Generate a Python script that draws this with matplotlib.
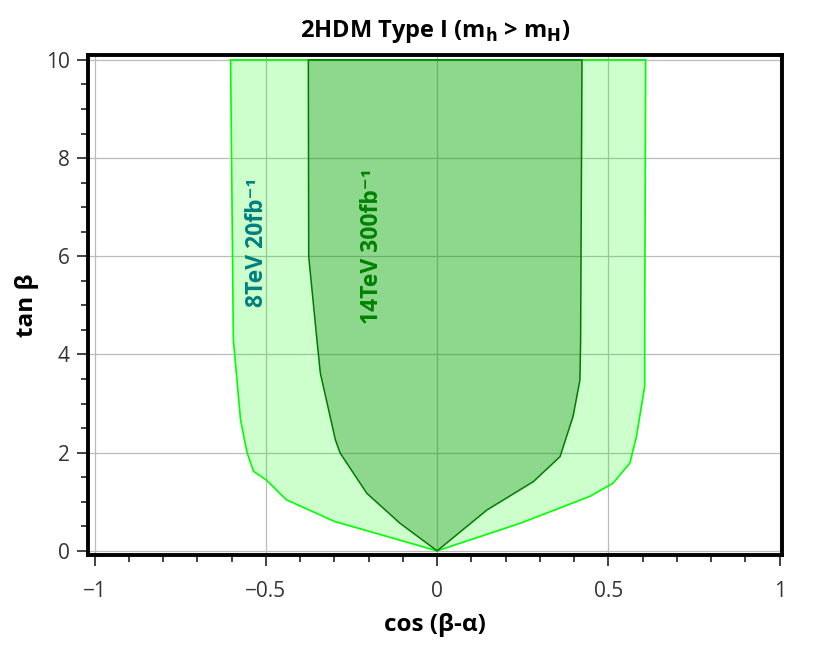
import matplotlib.pyplot as plt
from matplotlib.ticker import MultipleLocator, FuncFormatter

plt.rcParams['font.family'] = ['Open Sans', 'DejaVu Sans']

# 8TeV 20fb^-1 region boundary (left and right edges)
lo_left_x = [0, -0.08, -0.30, -0.44, -0.50, -0.536, -0.555, -0.574, -0.595, -0.603]
lo_left_y = [0, 0.16, 0.60, 1.04, 1.45, 1.62, 2.0, 2.67, 4.3, 10]
lo_right_x = [0, 0.242, 0.446, 0.514, 0.563, 0.582, 0.606, 0.606, 0.609]
lo_right_y = [0, 0.56, 1.11, 1.38, 1.79, 2.33, 3.35, 4.3, 10]

# 14TeV 300fb^-1 region boundary
hi_left_x = [0, -0.108, -0.205, -0.283, -0.297, -0.341, -0.351, -0.375, -0.376]
hi_left_y = [0, 0.56, 1.17, 1.99, 2.26, 3.62, 4.3, 6.0, 10]
hi_right_x = [0, 0.145, 0.281, 0.359, 0.397, 0.417, 0.419, 0.423]
hi_right_y = [0, 0.83, 1.41, 1.92, 2.74, 3.48, 4.3, 10]


def outline(lx, ly, rx, ry):
    xs = lx[::-1] + rx[1:]
    ys = ly[::-1] + ry[1:]
    return xs, ys


fig = plt.figure(figsize=(8.36, 6.55), dpi=100)
ax = fig.add_axes([0.105, 0.153, 0.83, 0.763])

xs, ys = outline(lo_left_x, lo_left_y, lo_right_x, lo_right_y)
ax.fill(xs, ys, facecolor=(0, 1, 0, 0.2), edgecolor='#00ff00', linewidth=1.2, zorder=2)
xs, ys = outline(hi_left_x, hi_left_y, hi_right_x, hi_right_y)
ax.fill(xs, ys, facecolor=(0, 0.5, 0, 0.3), edgecolor='#007a00', linewidth=1.1, zorder=3)

ax.text(-0.525, 6.28, '8TeV 20fb\u207b\u00b9', rotation=90, color='#008080',
        fontsize=16.5, fontweight='bold', ha='center', va='center', zorder=5)
ax.text(-0.19, 6.2, '14TeV 300fb\u207b\u00b9', rotation=90, color='#008000',
        fontsize=16.5, fontweight='bold', ha='center', va='center', zorder=5)

ax.set_xlim(-1.02, 1.006)
ax.set_ylim(-0.08, 10.1)
ax.xaxis.set_major_locator(MultipleLocator(0.5))
ax.xaxis.set_minor_locator(MultipleLocator(0.1))
ax.yaxis.set_major_locator(MultipleLocator(2))
ax.yaxis.set_minor_locator(MultipleLocator(0.5))
ax.xaxis.set_major_formatter(FuncFormatter(lambda v, p: ('%g' % v).replace('-', '\u2212')))
ax.grid(True, which='major', color='#bbbbbb', linewidth=0.9, zorder=1)
ax.set_axisbelow(True)
ax.tick_params(which='major', direction='out', length=8, width=1.2, color='#222222',
               labelsize=15, labelcolor='#333333', pad=5)
ax.tick_params(axis='x', which='major', pad=11)
ax.tick_params(which='minor', direction='out', length=5, width=1.2, color='#222222')
for s in ax.spines.values():
    s.set_linewidth(2.8)
    s.set_color('black')

ax.set_xlabel('cos (β-α)', fontsize=17.5, fontweight='bold', labelpad=8)
ax.set_ylabel('tan β', fontsize=17.5, fontweight='bold', labelpad=5)
ax.set_title('2HDM Type I (m$_{\\mathbf{h}}$ > m$_{\\mathbf{H}}$)', fontsize=17,
             fontweight='bold', pad=13)

fig.savefig('out.png', dpi=100)
